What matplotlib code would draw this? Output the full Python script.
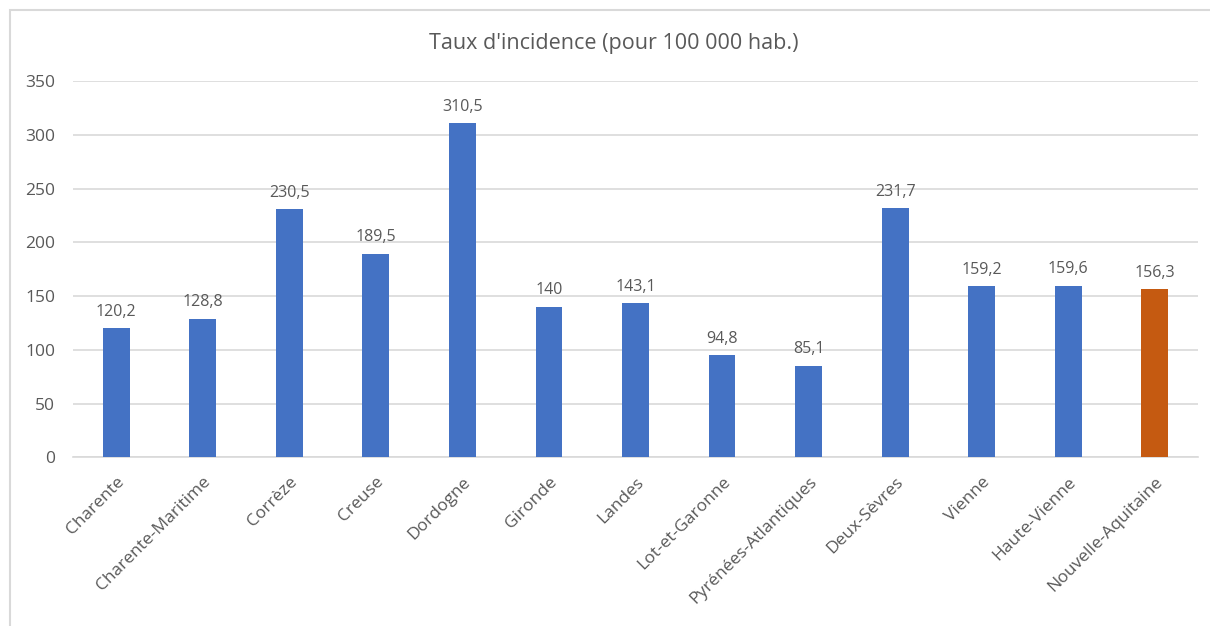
import matplotlib.pyplot as plt
from matplotlib.patches import Rectangle

departements = [
    "Charente", "Charente-Maritime", "Corrèze", "Creuse", "Dordogne",
    "Gironde", "Landes", "Lot-et-Garonne", "Pyrénées-Atlantiques",
    "Deux-Sèvres", "Vienne", "Haute-Vienne", "Nouvelle-Aquitaine",
]
taux = [120.2, 128.8, 230.5, 189.5, 310.5, 140, 143.1, 94.8, 85.1,
        231.7, 159.2, 159.6, 156.3]
yticks = [0, 50, 100, 150, 200, 250, 300, 350]

plt.rcParams["font.family"] = ["Open Sans", "DejaVu Sans"]
text_color = "#595959"
grid_color = "#d9d9d9"

fig = plt.figure(figsize=(12.1, 6.26), dpi=100)
ax = fig.add_axes([73 / 1210, 1 - 457.3 / 626, 1125 / 1210, (457.3 - 81) / 626])

colors = ["#4472c4"] * (len(taux) - 1) + ["#c55a11"]
x = range(len(departements))
bars = ax.bar(x, taux, width=0.31, color=colors, zorder=3)

for b, v in zip(bars, taux):
    label = ("%g" % v).replace(".", ",")
    ax.annotate(label, (b.get_x() + b.get_width() / 2, v), xytext=(0, 6),
                textcoords="offset points", ha="center", va="bottom",
                fontsize=11.5, color=text_color)

ax.set_xlim(-0.5, len(departements) - 0.5)
ax.set_ylim(0, 350)
ax.set_yticks(yticks)
ax.set_yticklabels([str(t) for t in yticks], fontsize=12.5, color=text_color)
ax.set_xticks(list(x))
ax.set_xticklabels(departements, rotation=45, ha="right", rotation_mode="anchor",
                   fontsize=12.5, color=text_color)
ax.tick_params(axis="both", length=0)
ax.tick_params(axis="x", pad=12)
ax.tick_params(axis="y", pad=13)
ax.grid(axis="y", color=grid_color, linewidth=1.2, zorder=0)
for s in ["top", "right", "left"]:
    ax.spines[s].set_visible(False)
ax.spines["bottom"].set_color(grid_color)
ax.spines["bottom"].set_linewidth(1.2)

fig.text(614 / 1210, 1 - 43 / 626, "Taux d'incidence (pour 100 000 hab.)",
         ha="center", va="center", fontsize=15.5, color=text_color)

fig.patches.append(Rectangle((10 / 1210, -0.1), 1.2, 1 - 10 / 626 + 0.1,
                             transform=fig.transFigure, fill=False,
                             edgecolor=grid_color, linewidth=1.5))

fig.savefig("out.png", dpi=100)
